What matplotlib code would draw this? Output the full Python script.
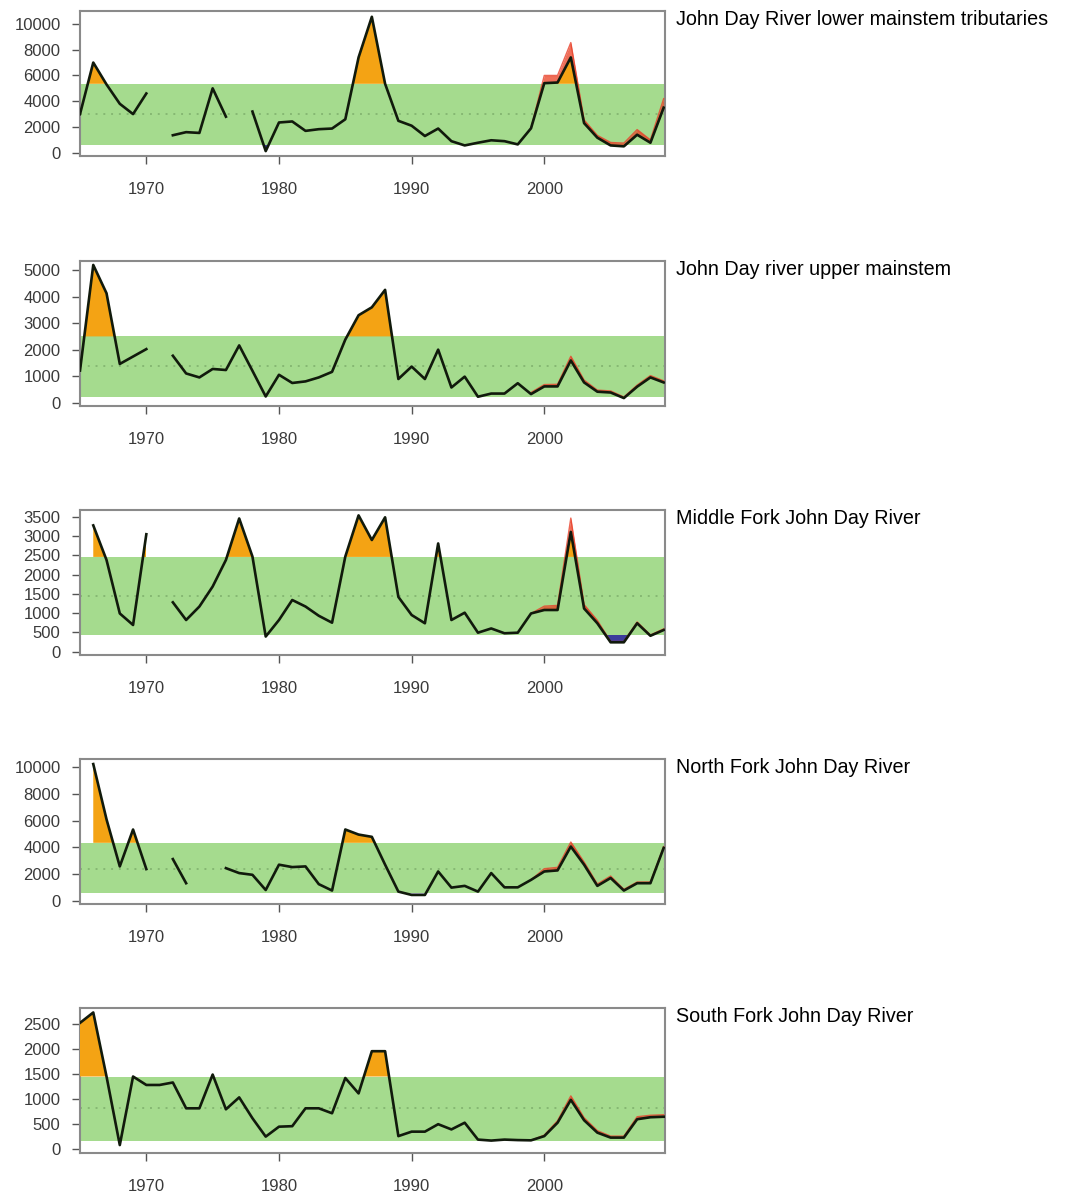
import numpy as np
import matplotlib
matplotlib.use("Agg")
import matplotlib.pyplot as plt

plt.rcParams['font.family'] = ['Liberation Sans', 'DejaVu Sans']

nan = np.nan
years = np.arange(1965, 2010)

names = ["John Day River lower mainstem tributaries",
         "John Day river upper mainstem",
         "Middle Fork John Day River",
         "North Fork John Day River",
         "South Fork John Day River"]

# wild spawner estimates, 1965-2009
lower_trib = [3000, 7000, 5300, 3800, 3000, 4600, nan, 1360, 1600, 1540,
              5000, 2800, nan, 3200, 130, 2350, 2430, 1700, 1830, 1880,
              2600, 7400, 10550, 5350, 2480, 2100, 1300, 1880, 900, 570,
              780, 970, 900, 650, 1900, 5400, 5450, 7400, 2300, 1170,
              570, 500, 1400, 780, 3500]
upper_main = [1210, 5200, 4130, 1460, 1740, 2020, nan, 1770, 1100, 950,
              1270, 1230, 2160, 1200, 230, 1050, 740, 800, 950, 1160,
              2380, 3300, 3600, 4260, 890, 1360, 890, 2000, 570, 980,
              220, 340, 340, 730, 320, 610, 610, 1590, 760, 410,
              380, 170, 600, 950, 760]
middle_fork = [nan, 3280, 2380, 990, 690, 3050, nan, 1280, 820, 1170,
               1690, 2380, 3460, 2470, 390, 820, 1340, 1170, 930, 750,
               2470, 3540, 2900, 3490, 1420, 950, 735, 2810, 820, 1010,
               490, 600, 475, 490, 990, 1080, 1080, 3110, 1120, 735,
               240, 240, 735, 410, 560]
north_fork = [nan, 10250, 6100, 2570, 5340, 2370, nan, 3120, 1310, nan,
              nan, 2440, 2070, 1940, 800, 2700, 2520, 2570, 1240, 760,
              5340, 4960, 4790, 2700, 680, 430, 430, 2190, 980, 1110,
              680, 2070, 1000, 1000, 1560, 2190, 2270, 4060, 2700, 1110,
              1700, 760, 1310, 1310, 3960]
south_fork = [2530, 2740, 1450, 70, 1450, 1280, 1280, 1330, 810, 810,
              1490, 790, 1030, 610, 240, 440, 450, 810, 810, 710,
              1420, 1110, 1960, 1960, 250, 340, 340, 490, 385, 520,
              180, 160, 180, 170, 165, 250, 520, 980, 570, 320,
              220, 220, 590, 630, 640]

# totals including hatchery-origin fish, 1999-2009
total_years = np.arange(1999, 2010)
lower_total = [1900, 6000, 6000, 8550, 2550, 1350, 800, 750, 1800, 1000, 4200]
upper_total = [380, 680, 690, 1750, 850, 470, 440, 210, 660, 1020, 820]
middle_total = [990, 1180, 1200, 3470, 1220, 810, 260, 260, 770, 430, 590]
north_total = [1560, 2400, 2500, 4400, 2900, 1250, 1850, 850, 1400, 1400, 4050]
south_total = [165, 270, 560, 1060, 620, 360, 250, 250, 640, 670, 680]

# reference range (low, high) and median for each population
band_low = [600, 220, 430, 560, 160]
band_high = [5350, 2500, 2460, 4340, 1450]
band_mid = [3000, 1400, 1440, 2400, 810]

ytick_step = [2000, 1000, 500, 2000, 500]
ytick_max = [10000, 5000, 3500, 10000, 2500]
ylims = [(-250, 11000), (-130, 5350), (-90, 3680), (-250, 10630), (-90, 2830)]

wild = [lower_trib, upper_main, middle_fork, north_fork, south_fork]
total = [lower_total, upper_total, middle_total, north_total, south_total]

fig = plt.figure(figsize=(10.65, 12.01), dpi=100)
W, H = 1065.0, 1201.0
tops = [11, 261, 510, 759, 1008]

for i in range(5):
    top = tops[i]
    ax = fig.add_axes([80 / W, 1 - (top + 145) / H, 585 / W, 145 / H])
    y = np.array(wild[i], dtype=float)
    tot = np.array(total[i], dtype=float)
    lo, hi = band_low[i], band_high[i]

    ax.axhspan(lo, hi, color='#a5db8e', lw=0, zorder=1)
    ax.axhline(band_mid[i], color='#86b873', lw=1.4, ls=(0, (1, 3)), zorder=2)

    ax.fill_between(years, hi, y, where=y > hi, interpolate=True,
                    color='#f4a314', lw=0, zorder=3)
    ax.fill_between(years, lo, y, where=y < lo, interpolate=True,
                    color='#3c3c9c', lw=0, zorder=3)

    # hatchery contribution on top of the wild line
    yt = y[total_years - 1965]
    ax.fill_between(total_years, yt, tot, color='#ea3f22', alpha=0.75, lw=0, zorder=4)
    ax.plot(total_years, tot, color='#e8402a', lw=1.0, alpha=0.8, zorder=4)

    ax.plot(years, y, color='#111a0c', lw=1.9, zorder=5)

    ax.set_xlim(1965, 2009.1)
    ax.set_ylim(*ylims[i])
    ax.set_xticks([1970, 1980, 1990, 2000])
    ax.set_yticks(np.arange(0, ytick_max[i] + 1, ytick_step[i]))
    ax.tick_params(axis='both', colors='#555555', labelcolor='#3a3a3a',
                   labelsize=12, length=6, width=1)
    ax.tick_params(axis='x', pad=13)
    ax.tick_params(axis='y', pad=8)
    for s in ax.spines.values():
        s.set_color('#8a8a8a')
        s.set_linewidth(1.5)

    fig.text(676 / W, 1 - (top - 1) / H, names[i], fontsize=14.2,
             va='top', ha='left', color='black')

fig.savefig("out.png", dpi=100)
